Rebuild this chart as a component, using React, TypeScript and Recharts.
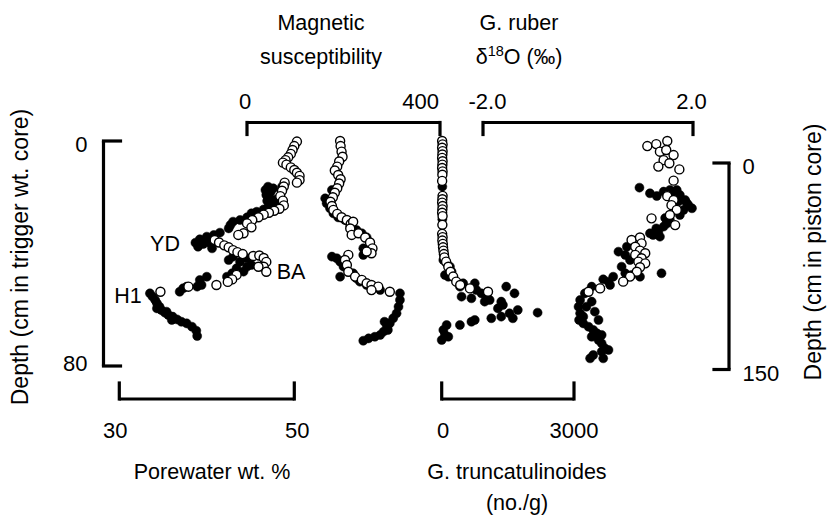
import React from 'react';
import { ScatterChart, Scatter, XAxis, YAxis, ZAxis } from 'recharts';

const W = 830;
const H = 517;
const FONT = '"Liberation Sans", Arial, Helvetica, sans-serif';
const INK = '#000';

// ---- data: [value, depth cm]. Open circles = trigger weight core, filled = piston core.
const porewaterTrigger: [number, number][] = [
  [50.3, 0.2], [50.0, 1.8], [49.8, 3.2], [49.6, 4.6], [49.3, 5.8], [49.0, 6.8], [48.7, 7.7], [49.1, 8.4],
  [49.6, 9.4], [50.0, 10.3], [50.3, 11.3], [50.6, 12.4], [50.6, 13.9], [50.3, 14.8], [48.9, 14.8], [48.8, 16.2],
  [48.6, 17.7], [48.4, 19.6], [48.7, 21.2], [48.8, 22.9], [48.3, 24.1], [47.7, 24.8], [47.1, 25.5], [46.5, 26.2],
  [45.9, 27.1], [45.2, 28.1], [44.6, 29.3], [45.1, 30.7], [44.2, 32.8], [43.6, 33.4], [40.9, 35.2], [41.4, 36.1],
  [42.0, 37.1], [42.5, 37.8], [43.0, 38.8], [43.5, 39.5], [44.1, 40.2], [45.3, 40.9], [46.0, 40.7], [46.5, 41.6],
  [46.8, 43.0], [46.5, 44.7], [46.8, 46.5], [45.9, 44.7], [43.4, 47.6], [42.9, 49.2], [42.4, 50.1], [41.1, 51.2],
  [37.9, 51.8], [34.7, 53.6],
];
const porewaterPiston: [number, number][] = [
  [48.9, 15.3], [48.6, 17.2], [47.6, 18.4], [47.0, 17.2], [46.7, 19.6], [46.8, 23.2], [47.2, 25.7], [47.6, 28.8],
  [48.0, 31.2], [47.0, 32.2], [46.5, 33.7], [45.7, 35.4], [45.1, 36.6], [44.6, 39.5], [43.8, 41.4], [43.0, 42.6],
  [42.7, 45.0], [42.5, 47.5], [41.5, 50.6], [40.8, 52.3], [40.0, 53.5], [39.2, 55.4], [38.7, 57.9], [39.0, 60.8],
  [39.6, 58.8], [40.4, 58.4], [40.6, 62.0], [40.0, 55.9], [42.5, 70.5], [43.0, 68.0], [43.8, 71.7], [44.6, 75.3],
  [45.1, 74.1], [44.2, 78.9], [43.4, 76.5], [44.6, 69.2], [42.9, 80.1], [42.3, 82.6], [40.0, 82.6], [39.2, 85.0],
  [39.4, 88.6], [38.9, 89.8], [37.7, 89.8], [36.9, 93.5], [37.3, 91.0], [33.5, 94.7], [33.8, 97.1], [34.1, 99.5],
  [34.3, 101.9], [34.6, 104.4], [34.8, 106.8], [35.2, 108.7], [35.6, 110.4], [36.1, 111.6], [36.6, 113.6],
  [37.1, 115.3], [37.7, 116.5], [38.3, 118.9], [38.8, 121.8], [38.9, 125.7], [34.3, 105.6], [35.4, 108.0],
  [36.0, 114.0], [47.3, 21.0], [47.9, 26.5], [46.9, 27.5], [48.3, 29.5],
];

const magTrigger: [number, number][] = [
  [193, 0], [194, 1.8], [196, 3.8], [198, 5.6], [191, 7.3], [187, 9.1], [182, 10.5], [189, 12.1], [194, 13.6],
  [191, 15.1], [187, 16.8], [182, 18.4], [178, 20.0], [173, 21.6], [176, 23.1], [179, 24.5], [187, 25.9],
  [196, 27.1], [207, 28.1], [215, 29.5], [220, 28.7], [214, 31.1], [217, 33.4], [231, 32.8], [245, 34.3],
  [255, 36.1], [260, 38.2], [258, 39.9], [248, 39.3], [210, 40.5], [203, 42.3], [207, 44.1], [210, 46.5],
  [224, 48.2], [238, 49.4], [248, 50.6], [258, 51.2], [272, 51.8], [296, 53.6], [258, 53.0],
];
const magPiston: [number, number][] = [
  [176, 19.6], [162, 25.7], [165, 29.3], [172, 32.9], [179, 36.6], [189, 39.5], [203, 41.4], [214, 45.8],
  [227, 48.7], [238, 51.1], [248, 54.0], [241, 62.0], [241, 66.8], [176, 68.0], [186, 69.2], [193, 71.7],
  [200, 75.3], [193, 82.6], [220, 80.1], [227, 83.8], [234, 86.2], [248, 88.6], [258, 91.0], [276, 92.3],
  [317, 94.7], [317, 99.5], [314, 104.4], [310, 109.2], [303, 112.8], [296, 116.5], [290, 118.9], [283, 122.5],
  [276, 124.9], [265, 126.2], [252, 127.4], [241, 129.1], [285, 115.3], [292, 121.3],
];

const truncTrigger: [number, number][] = [
  [10, 0], [20, 1.2], [10, 2.4], [20, 3.6], [15, 4.8], [10, 6.0], [20, 7.2], [15, 8.4], [10, 9.6], [20, 10.8],
  [15, 12.0], [10, 14.2], [20, 19.5], [15, 20.7], [10, 21.9], [20, 23.1], [15, 24.3], [10, 25.5], [20, 26.7],
  [15, 29.8], [10, 33.0], [20, 34.2], [15, 35.4], [25, 36.6], [30, 37.8], [40, 39.0], [50, 40.2], [60, 41.4],
  [100, 42.9], [150, 44.7], [200, 46.5], [260, 48.2], [330, 50.0], [420, 51.2], [640, 52.4], [1050, 53.6],
];
const truncPiston: [number, number][] = [
  [14, 17.2], [14, 40.9], [37, 70.5], [112, 72.9], [187, 75.3], [224, 78.9], [74, 81.4], [150, 82.6],
  [413, 89.8], [487, 87.4], [750, 87.4], [674, 98.3], [787, 92.3], [900, 94.7], [975, 100.7], [1088, 99.5],
  [1012, 95.9], [1275, 105.6], [1350, 100.7], [1388, 103.1], [1463, 89.8], [1651, 94.7], [1538, 109.2],
  [1613, 112.8], [1725, 106.8], [1125, 112.8], [1350, 111.6], [2175, 108.7], [674, 115.3], [750, 114.0],
  [413, 117.7], [112, 117.7], [37, 121.3], [74, 124.9], [0, 128.6], [150, 126.2], [450, 97.1],
];

const d18oTrigger: [number, number][] = [
  [1.13, 1.8], [1.30, 1.1], [1.51, 0], [1.37, 3.8], [1.49, 3.2], [1.63, 5.0], [1.44, 6.8], [1.55, 7.9],
  [1.34, 9.1], [1.74, 10.1], [1.63, 14.1], [1.51, 19.6], [1.63, 21.0], [1.59, 22.8], [1.69, 24.5], [1.56, 26.3],
  [1.21, 27.5], [1.66, 29.9], [0.83, 35.2], [0.99, 34.3], [1.02, 36.4], [0.90, 37.6], [0.99, 39.0], [1.09, 39.9],
  [0.90, 40.5], [1.02, 41.7], [0.96, 42.9], [1.09, 43.5], [0.99, 44.9], [0.93, 46.5], [0.80, 48.2], [0.67, 50.0],
  [0.23, 52.4], [0.01, 53.6],
];
const d18oPiston: [number, number][] = [
  [0.98, 17.9], [1.18, 22.0], [1.31, 24.0], [1.44, 20.8], [1.56, 19.6], [1.69, 19.6], [1.75, 23.2], [1.85, 26.9],
  [1.91, 30.5], [1.98, 32.9], [1.82, 34.1], [1.75, 37.8], [1.56, 41.4], [1.44, 46.2], [1.34, 49.9], [1.24, 52.3],
  [1.18, 51.1], [1.37, 53.5], [1.40, 80.1], [0.83, 58.4], [0.74, 60.8], [0.58, 64.4], [0.71, 66.8], [0.80, 70.5],
  [0.64, 75.3], [0.71, 80.1], [0.83, 81.4], [0.99, 82.6], [0.48, 82.6], [0.39, 86.2], [0.29, 84.5], [0.42, 88.6],
  [0.23, 91.0], [0.07, 89.8], [-0.06, 94.7], [-0.15, 99.5], [-0.18, 104.4], [-0.15, 109.2], [-0.17, 114.0],
  [-0.09, 116.5], [0.01, 118.9], [0.10, 121.3], [0.17, 123.7], [0.07, 126.2], [0.20, 128.6], [0.26, 131.0],
  [0.32, 134.6], [0.26, 137.0], [0.10, 139.5], [0.04, 141.9], [0.29, 141.9], [0.39, 135.8], [0.13, 108.0],
  [0.07, 100.7], [-0.03, 104.4], [0.20, 114.0], [0.26, 124.9], [-0.09, 111.6], [1.60, 22.5], [1.72, 28.0],
  [1.88, 29.0], [1.65, 31.5], [1.50, 44.0], [1.30, 47.5], [1.47, 40.0],
];

// ---- axis layout (pixel placement of each bracket)
const TRIG = { v0: 0, v1: 80, p0: 141, p1: 366, at: 103.5 };
const PIST = { v0: 0, v1: 150, p0: 163, p1: 369.5, at: 729 };
const PORE = { v0: 30, v1: 50, p0: 119.3, p1: 294.3, at: 399 };
const MAG = { v0: 0, v1: 400, p0: 247, p1: 440, at: 122.5 };
const TRUNC = { v0: 0, v1: 3000, p0: 441.7, p1: 574, at: 399 };
const D18 = { v0: -2, v1: 2, p0: 483, p1: 693, at: 122.5 };

type Span = { v0: number; v1: number; p0: number; p1: number; at: number };
// domain for a hidden axis that spans the whole canvas with the same scale as the bracket
const fullDomain = (s: Span, size: number): [number, number] => {
  const k = (s.v1 - s.v0) / (s.p1 - s.p0);
  return [s.v0 - s.p0 * k, s.v0 + (size - s.p0) * k];
};
const pts = (rows: [number, number][]) => rows.map(([x, y]) => ({ x, y }));

type Side = 'top' | 'bottom' | 'left' | 'right';

interface BracketProps {
  side: Side;
  span: Span;
  tickLen: number;
  labelOffset: number;
  labels: string[];
  anchors: ('start' | 'middle' | 'end')[];
  shift: number[];
}

function Bracket({ side, span, tickLen, labelOffset, labels, anchors, shift }: BracketProps) {
  const ticks = [span.v0, span.v1];
  const lineStyle = { stroke: INK, strokeWidth: 3.2 };
  const tick = (p: any) => {
    const i = ticks.indexOf(p.payload.value);
    const { x, y } = p;
    let line;
    let tx = x;
    let ty = y;
    if (side === 'top') {
      line = [x, y, x, y + tickLen];
      tx = x + shift[i];
      ty = y - labelOffset;
    } else if (side === 'bottom') {
      line = [x, y, x, y - tickLen];
      tx = x + shift[i];
      ty = y + labelOffset;
    } else if (side === 'left') {
      line = [x, y, x + tickLen, y];
      tx = x - labelOffset;
      ty = y + shift[i];
    } else {
      line = [x, y, x - tickLen, y];
      tx = x + labelOffset;
      ty = y + shift[i];
    }
    return (
      <g>
        <line x1={line[0]} y1={line[1]} x2={line[2]} y2={line[3]} stroke={INK} strokeWidth={3.2} strokeLinecap="square" />
        <text x={tx} y={ty} textAnchor={anchors[i]} fontSize={22} fontFamily={FONT} fill={INK}>
          {labels[i]}
        </text>
      </g>
    );
  };
  const lo = Math.min(span.p0, span.p1);
  const hi = Math.max(span.p0, span.p1);
  let margin;
  if (side === 'top') margin = { top: span.at - 30, left: lo, right: W - hi, bottom: H - span.at - 20 };
  else if (side === 'bottom') margin = { top: span.at - 20, left: lo, right: W - hi, bottom: H - span.at - 30 };
  else if (side === 'left') margin = { top: lo, bottom: H - hi, left: span.at - 30, right: W - span.at - 20 };
  else margin = { top: lo, bottom: H - hi, left: span.at - 20, right: W - span.at - 30 };

  const common = {
    type: 'number' as const,
    domain: [span.v0, span.v1],
    ticks,
    interval: 0 as const,
    allowDataOverflow: true,
    tickSize: 0,
    tickMargin: 0,
    tickLine: false,
    axisLine: lineStyle,
    tick,
  };
  return (
    <div style={{ position: 'absolute', left: 0, top: 0 }}>
      <ScatterChart width={W} height={H} margin={margin}>
        {side === 'top' || side === 'bottom' ? (
          <XAxis dataKey="x" orientation={side} height={30} {...common} />
        ) : (
          <YAxis dataKey="y" orientation={side} width={30} reversed {...common} />
        )}
      </ScatterChart>
    </div>
  );
}

const openDot = { fill: '#fff', stroke: INK, strokeWidth: 1.4 };
const fullDot = { fill: INK, stroke: INK, strokeWidth: 0.5 };

export default function App() {
  return (
    <div style={{ position: 'absolute', left: 0, top: 0, width: W, height: H, background: '#fff', fontFamily: FONT }}>
      <div style={{ position: 'absolute', left: 0, top: 0 }}>
        <ScatterChart width={W} height={H} margin={{ top: 0, right: 0, bottom: 0, left: 0 }}>
          <XAxis xAxisId="pw" dataKey="x" type="number" hide domain={fullDomain(PORE, W)} allowDataOverflow />
          <XAxis xAxisId="ms" dataKey="x" type="number" hide domain={fullDomain(MAG, W)} allowDataOverflow />
          <XAxis xAxisId="gt" dataKey="x" type="number" hide domain={fullDomain(TRUNC, W)} allowDataOverflow />
          <XAxis xAxisId="d18" dataKey="x" type="number" hide domain={fullDomain(D18, W)} allowDataOverflow />
          <YAxis yAxisId="trig" dataKey="y" type="number" hide reversed domain={fullDomain(TRIG, H)} allowDataOverflow />
          <YAxis yAxisId="pist" dataKey="y" type="number" hide reversed domain={fullDomain(PIST, H)} allowDataOverflow />
          <ZAxis range={[80, 80]} />

          <Scatter xAxisId="pw" yAxisId="pist" data={pts(porewaterPiston)} shape="circle" {...fullDot} isAnimationActive={false} />
          <Scatter xAxisId="pw" yAxisId="trig" data={pts(porewaterTrigger)} shape="circle" {...openDot} isAnimationActive={false} />
          <Scatter xAxisId="ms" yAxisId="pist" data={pts(magPiston)} shape="circle" {...fullDot} isAnimationActive={false} />
          <Scatter xAxisId="ms" yAxisId="trig" data={pts(magTrigger)} shape="circle" {...openDot} isAnimationActive={false} />
          <Scatter xAxisId="gt" yAxisId="pist" data={pts(truncPiston)} shape="circle" {...fullDot} isAnimationActive={false} />
          <Scatter xAxisId="gt" yAxisId="trig" data={pts(truncTrigger)} shape="circle" {...openDot} isAnimationActive={false} />
          <Scatter xAxisId="d18" yAxisId="pist" data={pts(d18oPiston)} shape="circle" {...fullDot} isAnimationActive={false} />
          <Scatter xAxisId="d18" yAxisId="trig" data={pts(d18oTrigger)} shape="circle" {...openDot} isAnimationActive={false} />
        </ScatterChart>
      </div>

      <Bracket side="left" span={TRIG} tickLen={17} labelOffset={16} labels={['0', '80']} anchors={['end', 'end']} shift={[11, 5]} />
      <Bracket side="right" span={PIST} tickLen={15} labelOffset={13.5} labels={['0', '150']} anchors={['start', 'start']} shift={[11, 11]} />
      <Bracket side="top" span={MAG} tickLen={12} labelOffset={13.5} labels={['0', '400']} anchors={['middle', 'end']} shift={[-2, -1]} />
      <Bracket side="top" span={D18} tickLen={12} labelOffset={13.5} labels={['-2.0', '2.0']} anchors={['middle', 'middle']} shift={[4.5, -1.5]} />
      <Bracket side="bottom" span={PORE} tickLen={16} labelOffset={38.5} labels={['30', '50']} anchors={['middle', 'middle']} shift={[-4, 3]} />
      <Bracket side="bottom" span={TRUNC} tickLen={16} labelOffset={38.5} labels={['0', '3000']} anchors={['middle', 'middle']} shift={[1.5, 0]} />

      <svg width={W} height={H} style={{ position: 'absolute', left: 0, top: 0, pointerEvents: 'none' }}>
        <g fontFamily={FONT} fontSize={21.5} fill={INK} textAnchor="middle">
          <text x={321} y={30}>Magnetic</text>
          <text x={321} y={64}>susceptibility</text>
          <text x={519} y={30}>G. ruber</text>
          <text x={519} y={64}>
            δ<tspan fontSize={14.5} dy={-8}>18</tspan>
            <tspan dy={8}>O (‰)</tspan>
          </text>
          <text x={212} y={479}>Porewater wt. %</text>
          <text x={517} y={479}>G. truncatulinoides</text>
          <text x={517} y={510}>(no./g)</text>
          <text x={165} y={251}>YD</text>
          <text x={291} y={279}>BA</text>
          <text x={128} y={303}>H1</text>
          <text fontSize={23} transform="translate(28 257) rotate(-90)">Depth (cm in trigger wt. core)</text>
          <text fontSize={23} transform="translate(821 252) rotate(-90)">Depth (cm in piston core)</text>
        </g>
      </svg>
    </div>
  );
}
